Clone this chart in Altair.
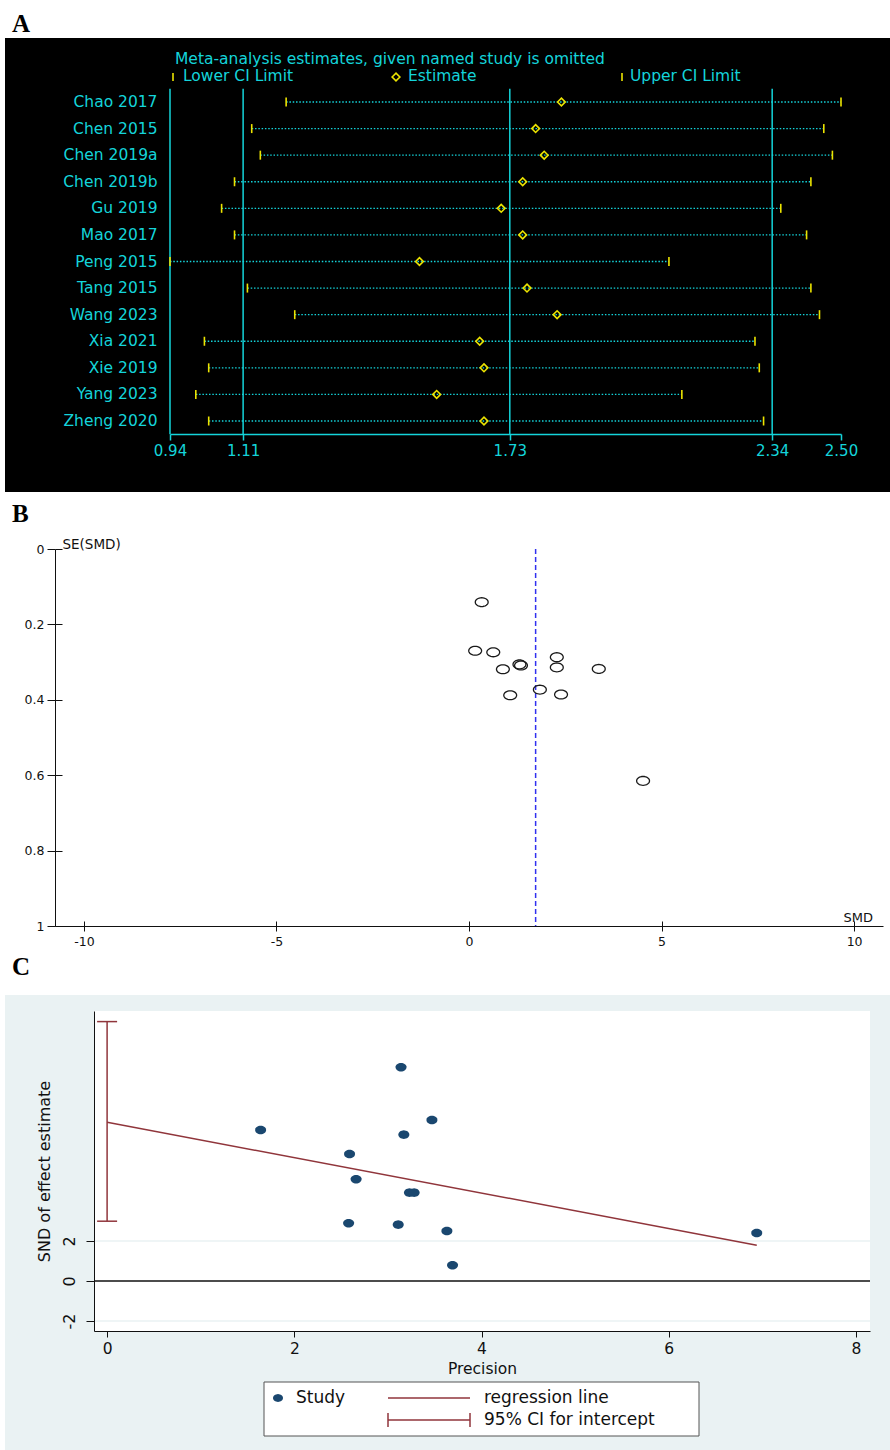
import math
import altair as alt
import pandas as pd

W, H = 890, 1450

# ---------------- A: leave-one-out sensitivity analysis ----------------
studies = ["Chao 2017", "Chen 2015", "Chen 2019a", "Chen 2019b", "Gu 2019", "Mao 2017",
           "Peng 2015", "Tang 2015", "Wang 2023", "Xia 2021", "Xie 2019", "Yang 2023",
           "Zheng 2020"]
loo_lower = [1.21, 1.13, 1.15, 1.09, 1.06, 1.09, 0.94, 1.12, 1.23, 1.02, 1.03, 1.00, 1.03]
loo_est = [1.85, 1.79, 1.81, 1.76, 1.71, 1.76, 1.52, 1.77, 1.84, 1.66, 1.67, 1.56, 1.67]
loo_upper = [2.50, 2.46, 2.48, 2.43, 2.36, 2.42, 2.10, 2.43, 2.45, 2.30, 2.31, 2.13, 2.32]
axis_ticks_a = [0.94, 1.11, 1.73, 2.34, 2.50]
ref_lines_a = [0.94, 1.11, 1.73, 2.34]
key_labels_a = ["Lower CI Limit", "Estimate", "Upper CI Limit"]

# ---------------- B: funnel plot ----------------
funnel_smd = [0.33, 0.16, 0.63, 2.28, 1.31, 1.35, 0.88, 2.28, 3.37, 1.84, 1.07, 2.39, 4.52]
funnel_se = [0.141, 0.270, 0.274, 0.287, 0.306, 0.309, 0.319, 0.314, 0.318, 0.373, 0.388,
             0.386, 0.615]
pooled_smd = [1.73]
ticks_b_x = [-10, -5, 0, 5, 10]
ticks_b_y = [0, 0.2, 0.4, 0.6, 0.8, 1]

# ---------------- C: Egger's regression test ----------------
egger_precision = [3.14, 3.47, 1.64, 3.17, 2.59, 2.66, 3.23, 3.28, 2.58, 3.11, 3.63, 3.69, 6.94]
egger_snd = [10.69, 8.05, 7.55, 7.32, 6.35, 5.09, 4.42, 4.42, 2.89, 2.82, 2.50, 0.79, 2.40]
reg_precision = [0.0, 6.94]
reg_snd = [7.94, 1.79]
intercept_ci = [2.99, 12.97]
ticks_c_x = [0, 2, 4, 6, 8]
ticks_c_y = [-2, 0, 2]
grid_c_y = [-2, 2]

# ---------------- styling ----------------
SANS = "DejaVu Sans"
SERIF = "Liberation Serif"
CYAN = "#14d4da"
YELLOW = "#ece400"
NAVY = "#1a476f"
MAROON = "#90353b"
BLUISH = "#eaf2f3"
BLUE = "#3030f0"
INK = "#111111"


def ellipse_path(ry, n=32):
    pts = [(math.cos(2 * math.pi * k / n), ry * math.sin(2 * math.pi * k / n)) for k in range(n)]
    return "M" + " L".join(f"{x:.3f},{y:.3f}" for x, y in pts) + " Z"


OVAL_B = ellipse_path(0.69)
OVAL_C = ellipse_path(0.78)

one = pd.DataFrame({"k": [0]})


def note(text, x, y, size, color=INK, font=SANS, weight="normal", align="left",
         baseline="alphabetic"):
    return alt.Chart(pd.DataFrame({"t": [text]})).mark_text(
        align=align, baseline=baseline, font=font, fontSize=size, fontWeight=weight,
        color=color
    ).encode(x=alt.value(x), y=alt.value(y), text="t:N")


def seg(x1, y1, x2, y2, color, width=1.0):
    return alt.Chart(one).mark_rule(color=color, strokeWidth=width).encode(
        x=alt.value(x1), y=alt.value(y1), x2=alt.value(x2), y2=alt.value(y2))


def box(x1, y1, x2, y2, fill, stroke=None):
    kw = dict(fill=fill)
    if stroke:
        kw.update(stroke=stroke, strokeWidth=1)
    return alt.Chart(one).mark_rect(**kw).encode(
        x=alt.value(x1), y=alt.value(y1), x2=alt.value(x2), y2=alt.value(y2))


# ---------------- scales ----------------
def sa_x():
    return alt.Scale(domain=[0.94, 2.50], range=[170, 841], nice=False, zero=False)


def sa_y():
    return alt.Scale(type="band", domain=studies, range=[88.7, 434.3],
                     paddingInner=0, paddingOuter=0)


def sa_row():
    return alt.Scale(domain=[-0.5, 12.5], range=[88.7, 434.3], nice=False, zero=False)


def sb_x():
    return alt.Scale(domain=[-10.75, 10.75], range=[55, 883], nice=False, zero=False)


def sb_y():
    return alt.Scale(domain=[0, 1], range=[549, 926], nice=False, zero=False)


XC_DOM = [-0.14, 8.15]
YC_DOM = [-2.5, 13.5]


def sc_x():
    return alt.Scale(domain=XC_DOM, range=[94, 870], nice=False, zero=False)


def sc_y():
    return alt.Scale(domain=YC_DOM, range=[1331, 1011], nice=False, zero=False)


layers = []

# ======================= Panel A =======================
df_a = pd.DataFrame({"study": studies, "lower": loo_lower, "est": loo_est, "upper": loo_upper})

layers.append(box(5, 38, 890, 492, "black"))

layers.append(
    alt.Chart(pd.DataFrame({"v": ref_lines_a})).mark_rule(color=CYAN, strokeWidth=1.5).encode(
        x=alt.X("v:Q", scale=sa_x(), axis=None),
        y=alt.Y(datum=-0.5, type="quantitative", scale=sa_row(), axis=None),
        y2=alt.Y2(datum=12.5),
    )
)

layers.append(
    alt.Chart(df_a).mark_rule(color=CYAN, strokeWidth=1.3, strokeDash=[1.5, 1.8]).encode(
        x=alt.X("lower:Q", scale=sa_x(), axis=alt.Axis(
            orient="bottom", offset=434 - H, values=axis_ticks_a, format=".2f", title=None,
            domainColor=CYAN, domainWidth=1.5, tickColor=CYAN, tickWidth=1.5, tickSize=6,
            labelColor=CYAN, labelFont=SANS, labelFontSize=15, labelPadding=3,
            labelFlush=False, labelOverlap=False, grid=False, zindex=1)),
        x2="upper:Q",
        y=alt.Y("study:N", scale=sa_y(), sort=studies, axis=alt.Axis(
            orient="left", offset=-170, domain=False, ticks=False, tickSize=0,
            labelPadding=13, labelColor=CYAN, labelFont=SANS, labelFontSize=15.5,
            title=None, grid=False, zindex=1)),
    )
)

for col in ["lower", "upper"]:
    layers.append(
        alt.Chart(df_a).mark_tick(color=YELLOW, size=9, thickness=1.6, opacity=1).encode(
            x=alt.X(f"{col}:Q", scale=sa_x(), axis=None),
            y=alt.Y("study:N", scale=sa_y(), sort=studies, axis=None),
        )
    )

layers.append(
    alt.Chart(df_a).mark_point(shape="diamond", size=60, filled=False, color=YELLOW,
                               strokeWidth=1.6, opacity=1).encode(
        x=alt.X("est:Q", scale=sa_x(), axis=None),
        y=alt.Y("study:N", scale=sa_y(), sort=studies, axis=None),
    )
)

# header and key
layers.append(note("Meta-analysis estimates, given named study is omitted", 175, 64, 15.5, CYAN))
layers.append(seg(173, 73, 173, 81, YELLOW, 1.6))
layers.append(note(key_labels_a[0], 183, 81, 15.5, CYAN))
layers.append(
    alt.Chart(one).mark_point(shape="diamond", size=60, filled=False, color=YELLOW,
                              strokeWidth=1.6, opacity=1).encode(x=alt.value(396), y=alt.value(77))
)
layers.append(note(key_labels_a[1], 408, 81, 15.5, CYAN))
layers.append(seg(622, 73, 622, 81, YELLOW, 1.6))
layers.append(note(key_labels_a[2], 630, 81, 15.5, CYAN))
layers.append(note("A", 12, 32, 25, "black", SERIF, "bold"))

# ======================= Panel B =======================
df_b = pd.DataFrame({"smd": funnel_smd, "se": funnel_se})
df_pool = pd.DataFrame({"pooled": pooled_smd})

layers.append(note("B", 12, 522, 25, "black", SERIF, "bold"))

layers.append(
    alt.Chart(df_pool).mark_rule(color=BLUE, strokeDash=[5, 3], strokeWidth=1.5).encode(
        x=alt.X("pooled:Q", scale=sb_x(), axis=None),
        y=alt.Y(datum=0, type="quantitative", scale=sb_y(), axis=None),
        y2=alt.Y2(datum=1),
    )
)

# inner halves of the crossing tick marks (above the x axis, right of the y axis)
layers.append(
    alt.Chart(df_b).mark_point(opacity=0).encode(
        x=alt.X("smd:Q", scale=sb_x(), axis=alt.Axis(
            orient="top", offset=-926, values=ticks_b_x, labels=False, domain=False,
            tickSize=5, tickColor=INK, title=None, grid=False, zindex=1)),
        y=alt.Y("se:Q", scale=sb_y(), axis=alt.Axis(
            orient="right", offset=55 - W, values=ticks_b_y, labels=False, domain=False,
            tickSize=7, tickColor=INK, title=None, grid=False, zindex=1)),
    )
)

layers.append(
    alt.Chart(df_b).mark_point(shape=OVAL_B, size=165, filled=False, color="#1a1a1a",
                               strokeWidth=1.3, opacity=1).encode(
        x=alt.X("smd:Q", scale=sb_x(), axis=alt.Axis(
            orient="bottom", offset=926 - H, values=ticks_b_x, labelExpr="'' + datum.value",
            tickSize=5, tickColor=INK, domainColor=INK, labelPadding=4, labelFont=SANS,
            labelFontSize=12.5, labelColor=INK, labelFlush=False, labelOverlap=False,
            title="SMD", titleX=843, titleY=-5, titleAlign="left", titleBaseline="alphabetic",
            titleFont=SANS, titleFontSize=13, titleFontWeight="normal", titleColor=INK,
            grid=False, zindex=1)),
        y=alt.Y("se:Q", scale=sb_y(), axis=alt.Axis(
            orient="left", offset=-55, values=ticks_b_y, labelExpr="'' + datum.value",
            tickSize=8, tickColor=INK, domainColor=INK, labelPadding=3, labelFont=SANS,
            labelFontSize=12.5, labelColor=INK, labelFlush=False, labelOverlap=False,
            title="SE(SMD)", titleX=7, titleY=548, titleAngle=0, titleAlign="left",
            titleBaseline="alphabetic", titleFont=SANS, titleFontSize=13.5,
            titleFontWeight="normal", titleColor=INK, grid=False, zindex=1)),
    )
)

# ======================= Panel C =======================
df_c = pd.DataFrame({"precision": egger_precision, "snd": egger_snd})
df_reg = pd.DataFrame({"precision": reg_precision, "snd": reg_snd})
df_ci = pd.DataFrame({"x": [0.0], "lo": [intercept_ci[0]], "hi": [intercept_ci[1]]})

layers.append(note("C", 12, 975, 25, "black", SERIF, "bold"))
layers.append(box(5, 995, 890, 1450, BLUISH))

layers.append(
    alt.Chart(one).mark_rect(fill="white").encode(
        x=alt.X(datum=XC_DOM[0], type="quantitative", scale=sc_x(), axis=None),
        x2=alt.X2(datum=XC_DOM[1]),
        y=alt.Y(datum=YC_DOM[0], type="quantitative", scale=sc_y(), axis=None),
        y2=alt.Y2(datum=YC_DOM[1]),
    )
)

layers.append(
    alt.Chart(pd.DataFrame({"g": grid_c_y})).mark_rule(color=BLUISH, strokeWidth=1.5).encode(
        x=alt.X(datum=XC_DOM[0], type="quantitative", scale=sc_x(), axis=None),
        x2=alt.X2(datum=XC_DOM[1]),
        y=alt.Y("g:Q", scale=sc_y(), axis=None),
    )
)

layers.append(
    alt.Chart(one).mark_rule(color=INK, strokeWidth=1.5).encode(
        x=alt.X(datum=XC_DOM[0], type="quantitative", scale=sc_x(), axis=None),
        x2=alt.X2(datum=XC_DOM[1]),
        y=alt.Y(datum=0, type="quantitative", scale=sc_y(), axis=None),
    )
)

layers.append(
    alt.Chart(df_reg).mark_line(color=MAROON, strokeWidth=1.5).encode(
        x=alt.X("precision:Q", scale=sc_x(), axis=None),
        y=alt.Y("snd:Q", scale=sc_y(), axis=None),
    )
)

layers.append(
    alt.Chart(df_ci).mark_rule(color=MAROON, strokeWidth=1.5).encode(
        x=alt.X("x:Q", scale=sc_x(), axis=None),
        y=alt.Y("lo:Q", scale=sc_y(), axis=None),
        y2="hi:Q",
    )
)

layers.append(
    alt.Chart(df_ci).transform_fold(["lo", "hi"], as_=["end", "val"]).mark_tick(
        color=MAROON, orient="horizontal", size=20, thickness=1.5, opacity=1).encode(
        x=alt.X("x:Q", scale=sc_x(), axis=None),
        y=alt.Y("val:Q", scale=sc_y(), axis=None),
    )
)

layers.append(
    alt.Chart(df_c).mark_point(shape=OVAL_C, size=121, filled=True, color=NAVY,
                               opacity=1).encode(
        x=alt.X("precision:Q", scale=sc_x(), axis=alt.Axis(
            orient="bottom", offset=1331 - H, values=ticks_c_x, labelExpr="'' + datum.value",
            tickSize=6, tickColor=INK, domainColor=INK, labelPadding=4, labelFont=SANS,
            labelFontSize=15.5, labelColor=INK, labelFlush=False, labelOverlap=False,
            title="Precision", titleY=42, titleBaseline="alphabetic", titleFont=SANS,
            titleFontSize=15.5, titleFontWeight="normal", titleColor=INK, grid=False,
            zindex=1)),
        y=alt.Y("snd:Q", scale=sc_y(), axis=alt.Axis(
            orient="left", offset=-94, values=ticks_c_y, labelExpr="'' + datum.value",
            labelAngle=270, labelAlign="center", labelBaseline="bottom",
            tickSize=8, tickColor=INK, domainColor=INK, labelPadding=9, labelFont=SANS,
            labelFontSize=16, labelColor=INK, labelFlush=False, labelOverlap=False,
            title="SND of effect estimate", titleAngle=270, titleX=-45, titleY=1171,
            titleAlign="center", titleBaseline="alphabetic", titleFont=SANS,
            titleFontSize=16, titleFontWeight="normal", titleColor=INK, grid=False,
            zindex=1)),
    )
)

# legend
layers.append(box(264, 1382, 699, 1436, "white", "#555555"))
layers.append(
    alt.Chart(one).mark_point(shape=OVAL_C, size=100, filled=True, color=NAVY, opacity=1).encode(
        x=alt.value(278), y=alt.value(1398))
)
layers.append(note("Study", 296, 1398, 17, INK, baseline="middle"))
layers.append(seg(388, 1398, 470, 1398, MAROON, 1.5))
layers.append(note("regression line", 484, 1398, 17, INK, baseline="middle"))
layers.append(seg(388, 1420, 470, 1420, MAROON, 1.5))
layers.append(seg(388, 1413, 388, 1427, MAROON, 1.5))
layers.append(seg(470, 1413, 470, 1427, MAROON, 1.5))
layers.append(note("95% CI for intercept", 484, 1420, 17, INK, baseline="middle"))

chart = alt.layer(*layers).resolve_scale(
    x="independent", y="independent"
).properties(
    width=W, height=H, padding=0, background="white",
    autosize=alt.AutoSizeParams(type="none"),
).configure_view(stroke=None)

chart.save("out.html", embed_options={"renderer": "svg", "actions": False})
